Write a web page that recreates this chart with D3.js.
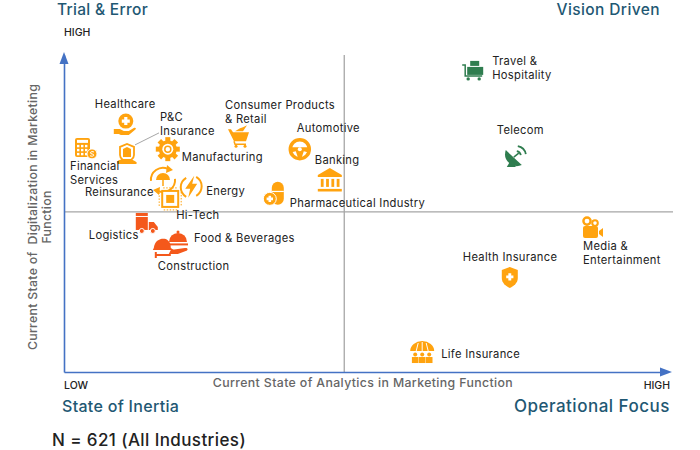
<!DOCTYPE html>
<html>
<head>
<meta charset="utf-8">
<script src="https://cdn.jsdelivr.net/npm/d3@7"></script>
<style>
    html, body { margin: 0; background: #fff; }
    text { font-family: Inter, "Open Sans", sans-serif; }
</style>
</head>
<body>
<div class="plot"></div>
<script>
const industries = ["Healthcare", "P&C Insurance", "Financial Services", "Manufacturing", "Consumer Products & Retail", "Automotive", "Banking", "Pharmaceutical Industry", "Reinsurance", "Energy", "Hi-Tech", "Logistics", "Food & Beverages", "Construction", "Travel & Hospitality", "Telecom", "Media & Entertainment", "Health Insurance", "Life Insurance"];
const analytics = [10.3, 10.5, 3.5, 17.3, 29, 39.3, 44.3, 35.3, 16.5, 21.2, 17.7, 13.8, 19, 16.8, 68.2, 75.3, 88, 74.3, 59.7];
const digitalization = [78.2, 68.8, 70.7, 70.3, 74.4, 70.3, 60.6, 56.2, 60.6, 58.4, 54.6, 46.7, 42.3, 39.4, 95.3, 68.1, 45.4, 30, 6.3];
const groups = ["amber", "amber", "amber", "amber", "amber", "amber", "amber", "amber", "amber", "amber", "amber", "red", "red", "red", "green", "green", "amber", "amber", "amber"];
const quadrants = ["Trial & Error", "Vision Driven", "State of Inertia", "Operational Focus"];
const midX = 46.7;
const midY = 50.5;

const color = d3.scaleOrdinal()
    .domain(["amber", "red", "green"])
    .range(["#ffa30f", "#f4581b", "#2f7d4f"]);

const xScale = d3.scaleLinear().domain([0, 100]).range([64, 664]);
const yScale = d3.scaleLinear().domain([0, 100]).range([372, 55]);

const svg = d3.select(".plot").append("svg")
    .attr("width", 700)
    .attr("height", 450)
    .style("display", "block");

// quadrant lines
svg.append("line")
    .attr("x1", xScale(midX)).attr("x2", xScale(midX))
    .attr("y1", yScale(100)).attr("y2", yScale(0))
    .attr("stroke", "#8c8c8c").attr("stroke-width", 1);
svg.append("line")
    .attr("x1", xScale(0)).attr("x2", 673)
    .attr("y1", yScale(midY)).attr("y2", yScale(midY))
    .attr("stroke", "#a6a6a6").attr("stroke-width", 1.2);

// axes, no ticks
const xAxis = svg.append("g")
    .attr("transform", `translate(0, ${yScale(0)})`)
    .call(d3.axisBottom(xScale).tickValues([]).tickSizeOuter(0));
const yAxis = svg.append("g")
    .attr("transform", `translate(${xScale(0)}, 0)`)
    .call(d3.axisLeft(yScale).tickValues([]).tickSizeOuter(0));
xAxis.select(".domain").attr("stroke", "#4472c4").attr("stroke-width", 1.6);
yAxis.select(".domain").attr("stroke", "#4472c4").attr("stroke-width", 1.6);
svg.append("path").attr("d", "M64 52l-4.5 12h9z").attr("fill", "#4472c4");
svg.append("path").attr("d", "M672 372l-12-4.5v9z").attr("fill", "#4472c4");

// headings
const headX = [57, 660, 62, 670];
const headY = [15, 15, 412, 412];
const headSize = [15.5, 15.5, 16, 17];
const headSpacing = [0.3, 0.4, 0.3, 0.5];
svg.selectAll(".quadrant")
    .data(quadrants)
    .join("text")
    .attr("class", "quadrant")
    .attr("x", (d, i) => headX[i])
    .attr("y", (d, i) => headY[i])
    .attr("text-anchor", (d, i) => i % 2 ? "end" : "start")
    .attr("fill", "#1f5873")
    .style("font-size", (d, i) => headSize[i] + "px")
    .style("letter-spacing", (d, i) => headSpacing[i] + "px")
    .style("font-weight", 500)
    .text((d) => d);

svg.append("text").attr("x", 64).attr("y", 36).text("HIGH")
    .style("font-size", "10.5px").style("font-weight", 500).attr("fill", "#222");
svg.append("text").attr("x", 64).attr("y", 389).text("LOW")
    .style("font-size", "10.5px").style("font-weight", 500).attr("fill", "#222");
svg.append("text").attr("x", 670).attr("y", 389).attr("text-anchor", "end").text("HIGH")
    .style("font-size", "10.5px").style("font-weight", 500).attr("fill", "#222");

svg.append("text").attr("x", 363).attr("y", 387).attr("text-anchor", "middle")
    .text("Current State of Analytics in Marketing Function")
    .style("font-size", "12.3px").style("letter-spacing", "0.38px").style("font-weight", 500).attr("fill", "#666");

svg.append("text").attr("transform", "translate(37, 217) rotate(-90)").attr("text-anchor", "middle")
    .text("Current State of  Digitalization in Marketing")
    .style("white-space", "pre")
    .style("font-size", "12.3px").style("letter-spacing", "0.3px").style("font-weight", 500).attr("fill", "#666");
svg.append("text").attr("transform", "translate(51, 217) rotate(-90)").attr("text-anchor", "middle")
    .text("Function")
    .style("font-size", "12.3px").style("letter-spacing", "0.3px").style("font-weight", 500).attr("fill", "#666");

svg.append("text").attr("x", 52).attr("y", 446)
    .text("N = 621 (All Industries)")
    .style("font-size", "17px").style("letter-spacing", "0.4px").style("font-weight", 500).attr("fill", "#222");

// label placement, offset from the icon centre: lines, dx, dy of first baseline
const labelLayout = {
    "Healthcare": [["Healthcare"], -31, -16],
    "P&C Insurance": [["P&C", "Insurance"], 33, -33],
    "Financial Services": [["Financial", "Services"], -15, 22],
    "Manufacturing": [["Manufacturing"], 14, 12],
    "Consumer Products & Retail": [["Consumer Products", "& Retail"], -13, -27],
    "Automotive": [["Automotive"], -3, -17],
    "Banking": [["Banking"], -15, -16],
    "Pharmaceutical Industry": [["Pharmaceutical Industry"], 14, 13],
    "Reinsurance": [["Reinsurance"], -78, 16],
    "Energy": [["Energy"], 15, 8],
    "Hi-Tech": [["Hi-Tech"], 6, 20],
    "Logistics": [["Logistics"], -58, 15],
    "Food & Beverages": [["Food & Beverages"], 16, 4],
    "Construction": [["Construction"], -7, 23],
    "Travel & Hospitality": [["Travel &", "Hospitality"], 19, -5],
    "Telecom": [["Telecom"], -19, -22],
    "Media & Entertainment": [["Media &", "Entertainment"], -9, 22],
    "Health Insurance": [["Health Insurance"], -47, -16],
    "Life Insurance": [["Life Insurance"], 19, 6],
};

// icon glyphs, drawn around 0,0
const plus = (g, x, y, s, c) => {
    g.append("path")
        .attr("d", `M${x - s} ${y}H${x + s}M${x} ${y - s}V${y + s}`)
        .attr("stroke", c).attr("stroke-width", s * 0.8).attr("fill", "none");
};
const icons = {
    "Healthcare": (g, c) => {
        g.append("circle").attr("cy", -3).attr("r", 7.5).attr("fill", c);
        plus(g, 0, -3, 4, "#fff");
        g.append("path").attr("fill", c)
            .attr("d", "M-12 5h6l4 2h5l5-3c2-1 3 1 1 2l-6 5H-5l-2-1h-5z");
    },
    "P&C Insurance": (g, c) => {
        g.append("path").attr("fill", "none").attr("stroke", c).attr("stroke-width", 1.8)
            .attr("d", "M-7-7L0-10L7-7V1C7 4 5 5 4 6H-4C-5 5-7 4-7 1z");
        g.append("path").attr("fill", c).attr("d", "M-4-5L0-7L4-5V3H-4z");
        g.append("path").attr("fill", c).attr("d", "M-10 9c0-3 3-3 5-4h8c3 1 6 2 7 4l-1 1H-9z");
    },
    "Financial Services": (g, c) => {
        g.append("rect").attr("x", -10).attr("y", -10).attr("width", 15).attr("height", 19).attr("rx", 2).attr("fill", c);
        g.append("rect").attr("x", -8).attr("y", -8).attr("width", 11).attr("height", 3).attr("fill", "#fff");
        g.selectAll(".key").data(d3.range(9)).join("rect")
            .attr("x", (d) => -8 + (d % 3) * 4)
            .attr("y", (d) => -3 + Math.floor(d / 3) * 4)
            .attr("width", 2.4).attr("height", 2.4).attr("fill", "#fff");
        g.append("circle").attr("cx", 7).attr("cy", 6).attr("r", 5).attr("fill", c).attr("stroke", "#fff");
        g.append("path").attr("fill", "none").attr("stroke", "#fff")
            .attr("d", "M9 4.2C8 3.4 5.4 3.6 5.4 5C5.4 6.6 8.8 5.6 8.8 7.2C8.8 8.6 6 8.6 5 7.8");
    },
    "Manufacturing": (g, c) => {
        g.selectAll(".tooth").data(d3.range(8)).join("rect")
            .attr("x", -2.5).attr("y", -12).attr("width", 5).attr("height", 5).attr("fill", c)
            .attr("transform", (d) => `rotate(${d * 45})`);
        g.append("circle").attr("r", 9).attr("fill", c);
        g.append("circle").attr("r", 5.5).attr("fill", "#fff");
        g.append("circle").attr("r", 3).attr("fill", "none").attr("stroke", c).attr("stroke-width", 1.5);
    },
    "Consumer Products & Retail": (g, c) => {
        g.append("path").attr("fill", c).attr("d", "M-10-7h3l2 3H11L8 5H-4z");
        g.append("path").attr("fill", "none").attr("stroke", c).attr("stroke-width", 1.5).attr("d", "M-4 5l1 3H8");
        g.append("path").attr("fill", c).attr("d", "M-3-5L2-8L5-9L9-11L5-5z");
        g.append("circle").attr("cx", -2).attr("cy", 10).attr("r", 1.5).attr("fill", c);
        g.append("circle").attr("cx", 7).attr("cy", 10).attr("r", 1.5).attr("fill", c);
    },
    "Automotive": (g, c) => {
        g.append("circle").attr("r", 9.5).attr("fill", "none").attr("stroke", c).attr("stroke-width", 3.5);
        g.append("path").attr("fill", c).attr("d", "M-9-2H9L8 3L4 2L2 8H-2L-4 2L-8 3z");
        g.append("circle").attr("r", 2).attr("fill", "#fff");
    },
    "Banking": (g, c) => {
        g.append("path").attr("fill", c).attr("d", "M0-12L12-5V-3H-12V-5z");
        g.selectAll(".pillar").data(d3.range(4)).join("rect")
            .attr("x", (d) => -9 + d * 5.3).attr("y", -1).attr("width", 2.8).attr("height", 8).attr("fill", c);
        g.append("rect").attr("x", -12).attr("y", 9).attr("width", 24).attr("height", 2.6).attr("fill", c);
    },
    "Pharmaceutical Industry": (g, c) => {
        g.append("rect").attr("x", -4).attr("y", -12).attr("width", 12).attr("height", 23).attr("rx", 6).attr("fill", c);
        g.append("rect").attr("x", -4).attr("y", -3).attr("width", 12).attr("height", 1.2).attr("fill", "#fff");
        g.append("circle").attr("cx", -6).attr("cy", 5).attr("r", 6.5).attr("fill", c).attr("stroke", "#fff");
        plus(g, -6, 5, 3.2, "#fff");
    },
    "Reinsurance": (g, c) => {
        g.append("path").attr("fill", "none").attr("stroke", c).attr("stroke-width", 2)
            .attr("d", "M-12 1A12 12 0 0 1 5-11M12-1A12 12 0 0 1-5 11");
        g.append("path").attr("fill", c).attr("d", "M4-15L10-10L3-7zM-4 15L-10 10L-3 7z");
        g.append("path").attr("fill", c).attr("d", "M-7 0A7 7 0 0 1 7 0z");
        g.append("path").attr("fill", "none").attr("stroke", c).attr("stroke-width", 1.5).attr("d", "M0 0V6");
    },
    "Energy": (g, c) => {
        g.append("path").attr("fill", "none").attr("stroke", c).attr("stroke-width", 2)
            .attr("d", "M-5-9A11 11 0 0 0-5 10M5 9A11 11 0 0 0 5-10");
        g.append("path").attr("fill", c).attr("d", "M3-11L-6 2H-1L-3 11L6-3H1z");
    },
    "Hi-Tech": (g, c) => {
        g.append("rect").attr("x", -8).attr("y", -8).attr("width", 16).attr("height", 16).attr("fill", "#fff").attr("stroke", c).attr("stroke-width", 2);
        g.append("rect").attr("x", -4).attr("y", -4).attr("width", 8).attr("height", 8).attr("fill", c);
        g.selectAll(".pin").data(d3.range(4)).join("path")
            .attr("stroke", c).attr("stroke-dasharray", "1.5 1.5")
            .attr("d", "M-7-11H8")
            .attr("transform", (d) => `rotate(${d * 90})`);
    },
    "Logistics": (g, c) => {
        g.append("rect").attr("x", -11).attr("y", -11).attr("width", 12).attr("height", 3).attr("fill", c);
        g.append("rect").attr("x", -11).attr("y", -7).attr("width", 12).attr("height", 13).attr("fill", c);
        g.append("path").attr("fill", c).attr("d", "M2-2H7L11 3V6H2z");
        g.append("circle").attr("cx", -5).attr("cy", 7).attr("r", 2.5).attr("fill", c).attr("stroke", "#fff");
        g.append("circle").attr("cx", 6).attr("cy", 7).attr("r", 2.5).attr("fill", c).attr("stroke", "#fff");
    },
    "Food & Beverages": (g, c) => {
        g.append("path").attr("fill", c).attr("d", "M-9 4A9 9 0 0 1 9 4z");
        g.append("circle").attr("cy", -6).attr("r", 1.5).attr("fill", c);
        g.append("rect").attr("x", -10).attr("y", 5.5).attr("width", 20).attr("height", 2).attr("fill", c);
    },
    "Construction": (g, c) => {
        g.append("path").attr("fill", c).attr("d", "M-11 1C-10-7-4-9 1-8C5-6 6-3 6 1L9 3H-12z");
        g.append("path").attr("fill", c).attr("d", "M6 3L20 1C23 0 24 3 21 4L13 7H4z");
        g.append("path").attr("fill", c).attr("d", "M-8 7H6V9H-8zM-10 5H-8V11H-10z");
    },
    "Travel & Hospitality": (g, c) => {
        g.append("path").attr("fill", "none").attr("stroke", c).attr("stroke-width", 1.5).attr("d", "M-11-5H-8V6H9");
        g.append("rect").attr("x", -6).attr("y", -3).attr("width", 16).attr("height", 8).attr("fill", c);
        g.append("rect").attr("x", -3).attr("y", -9).attr("width", 9).attr("height", 5).attr("fill", c);
        g.append("circle").attr("cx", -5).attr("cy", 9).attr("r", 1.7).attr("fill", c);
        g.append("circle").attr("cx", 6).attr("cy", 9).attr("r", 1.7).attr("fill", c);
    },
    "Telecom": (g, c) => {
        g.append("path").attr("fill", c).attr("d", "M-10-6A12 12 0 0 0 6 9z");
        g.append("path").attr("fill", c).attr("d", "M-5 4L-9 11H0L-2 6z");
        g.append("path").attr("fill", "none").attr("stroke", c).attr("stroke-width", 1.8)
            .attr("d", "M1-5A5 5 0 0 1 5-1M2-10A10 10 0 0 1 10-2");
        g.append("path").attr("stroke", c).attr("stroke-width", 1.5).attr("d", "M-2 1L3-3");
    },
    "Media & Entertainment": (g, c) => {
        g.append("circle").attr("cx", -5).attr("cy", -7).attr("r", 3.6).attr("fill", "none").attr("stroke", c).attr("stroke-width", 2.4);
        g.append("circle").attr("cx", 3).attr("cy", -5).attr("r", 2.8).attr("fill", "none").attr("stroke", c).attr("stroke-width", 2);
        g.append("rect").attr("x", -9).attr("y", -2).attr("width", 15).attr("height", 12).attr("rx", 2).attr("fill", c);
        g.append("path").attr("fill", c).attr("d", "M7 3L11 0V9L7 6z");
    },
    "Health Insurance": (g, c) => {
        g.append("path").attr("fill", c).attr("d", "M0-10L8-7V1C8 6 4 9 0 11C-4 9-8 6-8 1V-7z");
        plus(g, 0, 0, 3.6, "#fff");
    },
    "Life Insurance": (g, c) => {
        g.append("path").attr("fill", c).attr("d", "M-12-1A12 10 0 0 1 12-1z");
        g.append("path").attr("fill", "none").attr("stroke", "#fff").attr("d", "M0-10V-1M-4-9L-6-1M4-9L6-1");
        g.selectAll(".person").data([-7, 0, 7]).join("circle")
            .attr("cx", (d) => d).attr("cy", 2.5).attr("r", 2).attr("fill", c);
        g.selectAll(".body").data([-7, 0, 7]).join("rect")
            .attr("x", (d) => d - 3.3).attr("y", 5).attr("width", 6.6).attr("height", 6).attr("fill", c);
    },
};

// leader from the P&C icon to its label
const pcIndex = industries.indexOf("P&C Insurance");
svg.append("line")
    .attr("x1", xScale(analytics[pcIndex]) + 8).attr("y1", yScale(digitalization[pcIndex]) - 9)
    .attr("x2", xScale(analytics[pcIndex]) + 32).attr("y2", yScale(digitalization[pcIndex]) - 21)
    .attr("stroke", "#a6a6a6");

const points = svg.selectAll(".industry")
    .data(industries)
    .join("g")
    .attr("class", "industry")
    .attr("transform", (d, i) => `translate(${xScale(analytics[i])}, ${yScale(digitalization[i])})`);

points.each(function (d, i) {
    icons[d](d3.select(this), color(groups[i]));
});

points.each(function (d) {
    const [lines, dx, dy] = labelLayout[d];
    d3.select(this).selectAll("text")
        .data(lines)
        .join("text")
        .attr("x", dx)
        .attr("y", (l, j) => dy + j * 14)
        .attr("fill", "#222")
        .style("font-size", "11.2px")
        .style("letter-spacing", "0.3px")
        .text((l) => l);
});
</script>
</body>
</html>
